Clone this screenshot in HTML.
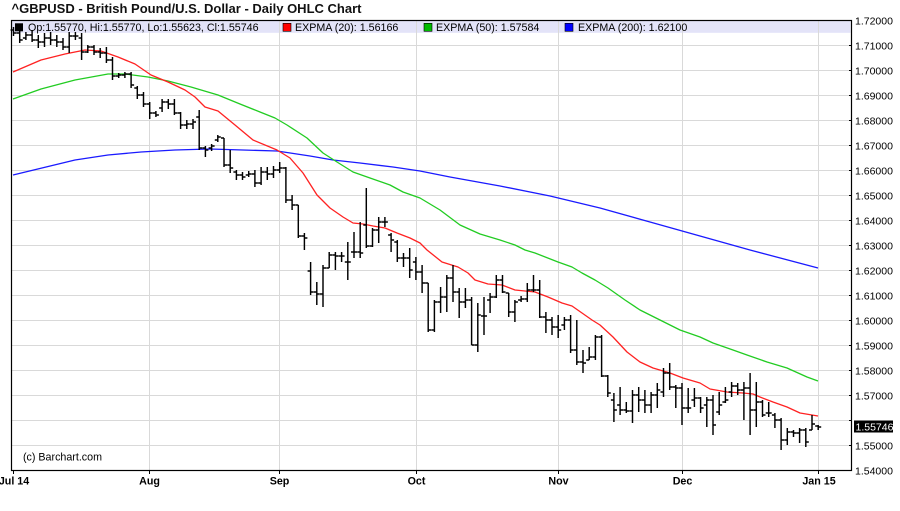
<!DOCTYPE html>
<html><head><meta charset="utf-8"><style>
html,body{margin:0;padding:0;background:#fff;}
svg{display:block;}
text{font-family:"Liberation Sans",Arial,sans-serif;}
</style></head><body>
<svg width="900" height="511" viewBox="0 0 900 511" xmlns="http://www.w3.org/2000/svg">
<rect x="0" y="0" width="900" height="511" fill="#fff"/>
<text x="11.5" y="12.8" font-size="13" font-weight="bold" fill="#111">^GBPUSD - British Pound/U.S. Dollar - Daily OHLC Chart</text>
<!-- legend band -->
<rect x="11.5" y="20.5" width="839" height="12.3" fill="#e3e3f8"/>
<!-- grid -->
<g stroke="#d9d9d9" stroke-width="1" fill="none">
<path d="M11.5 45.5H851.5M11.5 70.5H851.5M11.5 95.5H851.5M11.5 120.5H851.5M11.5 145.5H851.5M11.5 170.5H851.5M11.5 195.5H851.5M11.5 220.5H851.5M11.5 245.5H851.5M11.5 270.5H851.5M11.5 295.5H851.5M11.5 320.5H851.5M11.5 345.5H851.5M11.5 370.5H851.5M11.5 395.5H851.5M11.5 420.5H851.5M11.5 445.5H851.5"/>
<path d="M149.5 20.5V470.5M279.5 20.5V470.5M416.5 20.5V470.5M558.5 20.5V470.5M682.5 20.5V470.5M818.5 20.5V470.5"/>
</g>
<!-- frame -->
<rect x="11.5" y="20.5" width="840" height="450" fill="none" stroke="#000" stroke-width="1.2"/>
<g stroke="#000" stroke-width="1">
<path d="M849 45.5H852M849 70.5H852M849 95.5H852M849 120.5H852M849 145.5H852M849 170.5H852M849 195.5H852M849 220.5H852M849 245.5H852M849 270.5H852M849 295.5H852M849 320.5H852M849 345.5H852M849 370.5H852M849 395.5H852M849 420.5H852M849 445.5H852"/>
<path d="M13.5 470.5V474M149.5 470.5V474M279.5 470.5V474M416.5 470.5V474M558.5 470.5V474M682.5 470.5V474M818.5 470.5V474"/>
</g>
<!-- legend text -->
<rect x="15" y="23.3" width="8" height="8" fill="#000"/>
<text x="28" y="31" font-size="10.7" fill="#000">Op:1.55770, Hi:1.55770, Lo:1.55623, Cl:1.55746</text>
<rect x="283" y="23.3" width="8" height="8" fill="#f00" stroke="#000" stroke-width="0.6"/>
<text x="295" y="31" font-size="10.7" fill="#000">EXPMA (20): 1.56166</text>
<rect x="424" y="23.3" width="8" height="8" fill="#0b0" stroke="#000" stroke-width="0.6"/>
<text x="436" y="31" font-size="10.7" fill="#000">EXPMA (50): 1.57584</text>
<rect x="565" y="23.3" width="8" height="8" fill="#00f" stroke="#000" stroke-width="0.6"/>
<text x="578" y="31" font-size="10.7" fill="#000">EXPMA (200): 1.62100</text>
<!-- EMAs -->
<g fill="none" stroke-width="1.3" stroke-linejoin="round">
<polyline stroke="#1a1aff" points="13,175 75,160 108,155 141,152 175,150 210,149 277,151 310,156 333,160 360,163 393,167 420,171 450,177 500,186 550,196 600,208 650,222 700,236 750,250 818,268"/>
<polyline stroke="#22cc22" points="13,99 41,89 75,80 108,74 125,74 148,77 168,81 191,87 218,95 240,104 260,112 275,118 287,125 307,138 323,153 337,162 353,172 370,178 390,185 403,192 420,198 440,210 460,225 480,234 500,240 515,245 525,250 535,253 558,262 572,267 582,273 595,280 608,288 625,300 640,310 660,320 680,330 700,337 713,343 733,350 747,355 767,362 787,368 807,377 818,381"/>
<polyline stroke="#ff2222" points="13,72 41,60 65,54 85,50 101,51 118,57 135,64 151,75 168,82 185,90 195,97 205,107 218,111 235,125 253,140 277,150 290,158 303,173 317,195 330,208 343,217 353,223 363,224 373,226 385,228 397,233 410,238 420,243 427,250 442,262 458,267 468,273 475,280 488,284 502,285 515,290 525,291 535,292 548,297 562,303 572,306 582,313 592,320 600,325 613,337 627,352 640,362 653,368 670,373 683,378 700,383 710,389 727,392 743,393 753,394 760,397 773,402 787,407 800,413 818,416"/>
</g>
<!-- OHLC bars -->
<path fill="none" stroke="#000" stroke-width="1.45" d="
M13.5 27V36M10.5 30H13.5M13.5 33H16.5
M19.7 30V43M16.7 33H19.7M19.7 40H22.7
M25.9 32V40M22.9 38H25.9M25.9 35H28.9
M32.1 30V42M29.1 35H32.1M32.1 40H35.1
M38.3 35V48M35.3 40H38.3M38.3 42H41.3
M44.5 33V47M41.5 42H44.5M44.5 38H47.5
M50.6 32V45M47.6 38H50.6M50.6 40H53.6
M56.8 35V47M53.8 40H56.8M56.8 42H59.8
M63 38V50M60 42H63M63 47H66
M69.2 32V53M66.2 47H69.2M69.2 36H72.2
M75.4 32V40M72.4 36H75.4M75.4 36H78.4
M81.6 33V60M78.6 38H81.6M81.6 52H84.6
M87.8 45V53M84.8 52H87.8M87.8 47H90.8
M94 45V55M91 47H94M94 52H97
M100.2 48V58M97.2 52H100.2M100.2 53H103.2
M106.4 47V63M103.4 53H106.4M106.4 60H109.4
M112.5 57V80M109.5 60H112.5M112.5 76H115.5
M118.7 73V78M115.7 76H118.7M118.7 75H121.7
M124.9 72V78M121.9 75H124.9M124.9 74H127.9
M131.1 72V88M128.1 74H131.1M131.1 85H134.1
M137.3 86V99M134.3 88H137.3M137.3 95H140.3
M143.5 92V107M140.5 95H143.5M143.5 104H146.5
M149.7 102V119M146.7 104H149.7M149.7 113H152.7
M155.9 111V117M152.9 113H155.9M155.9 115H158.9
M162.1 99V112M159.1 108H162.1M162.1 102H165.1
M168.3 99V109M165.3 102H168.3M168.3 104H171.3
M174.4 99V115M171.4 104H174.4M174.4 113H177.4
M180.6 112V129M177.6 113H180.6M180.6 125H183.6
M186.8 120V129M183.8 125H186.8M186.8 124H189.8
M193 119V129M190 124H193M193 122H196
M199.2 110V150M196.2 117H199.2M199.2 148H202.2
M205.4 146V157M202.4 148H205.4M205.4 150H208.4
M211.6 144V151M208.6 148H211.6M211.6 146H214.6
M217.8 135V142M214.8 140H217.8M217.8 137H220.8
M224 138V167M221 138H224M224 165H227
M230.2 150V173M227.2 165H230.2M230.2 168H233.2
M236.4 170V180M233.4 172H236.4M236.4 175H239.4
M242.5 172V180M239.5 175H242.5M242.5 177H245.5
M248.7 171V177M245.7 175H248.7M248.7 174H251.7
M254.9 170V187M251.9 174H254.9M254.9 183H257.9
M261.1 167V185M258.1 183H261.1M261.1 172H264.1
M267.3 167V180M264.3 172H267.3M267.3 174H270.3
M273.5 166V178M270.5 174H273.5M273.5 170H276.5
M279.7 162V173M276.7 170H279.7M279.7 168H282.7
M285.9 167V203M282.9 168H285.9M285.9 200H288.9
M292.1 195V210M289.1 200H292.1M292.1 205H295.1
M298.3 205V238M295.3 205H298.3M298.3 236H301.3
M304.4 233V250M301.4 236H304.4M304.4 238H307.4
M310.6 262V295M307.6 271H310.6M310.6 292H313.6
M316.8 282V305M313.8 292H316.8M316.8 294H319.8
M323 265V307M320 294H323M323 268H326
M329.2 252V268M326.2 268H329.2M329.2 255H332.2
M335.4 252V270M332.4 255H335.4M335.4 256H338.4
M341.6 252V262M338.6 256H341.6M341.6 256H344.6
M347.8 242V280M344.8 262H347.8M347.8 262H350.8
M354 232V258M351 252H354M354 252H357
M360.2 222V258M357.2 252H360.2M360.2 253H363.2
M366.3 188V248M363.3 225H366.3M366.3 246H369.3
M372.5 228V247M369.5 246H372.5M372.5 230H375.5
M378.7 217V243M375.7 230H378.7M378.7 222H381.7
M384.9 217V227M381.9 222H384.9M384.9 222H387.9
M391.1 233V252M388.1 235H391.1M391.1 240H394.1
M397.3 240V262M394.3 242H397.3M397.3 258H400.3
M403.5 253V267M400.5 258H403.5M403.5 258H406.5
M409.7 248V278M406.7 258H409.7M409.7 270H412.7
M415.9 257V280M412.9 262H415.9M415.9 272H418.9
M422.1 265V293M419.1 272H422.1M422.1 283H425.1
M428.2 283V332M425.2 283H428.2M428.2 330H431.2
M434.4 300V332M431.4 330H434.4M434.4 302H437.4
M440.6 287V313M437.6 302H440.6M440.6 297H443.6
M446.8 275V312M443.8 297H446.8M446.8 278H449.8
M453 265V302M450 278H453M453 292H456
M459.2 288V318M456.2 292H459.2M459.2 302H462.2
M465.4 288V308M462.4 302H465.4M465.4 300H468.4
M471.6 297V345M468.6 300H471.6M471.6 345H474.6
M477.8 303V352M474.8 345H477.8M477.8 315H480.8
M484 297V335M481 316H484M484 316H487
M490.1 293V313M487.1 300H490.1M490.1 297H493.1
M496.3 275V298M493.3 297H496.3M496.3 280H499.3
M502.5 275V293M499.5 280H502.5M502.5 292H505.5
M508.7 293V317M505.7 293H508.7M508.7 312H511.7
M514.9 300V322M511.9 312H514.9M514.9 302H517.9
M521.1 296V302M518.1 300H521.1M521.1 299H524.1
M527.3 283V302M524.3 299H527.3M527.3 290H530.3
M533.5 275V292M530.5 290H533.5M533.5 290H536.5
M539.7 280V318M536.7 290H539.7M539.7 317H542.7
M545.9 312V333M542.9 317H545.9M545.9 320H548.9
M552 317V335M549 320H552M552 327H555
M558.2 315V338M555.2 327H558.2M558.2 330H561.2
M564.4 317V330M561.4 325H564.4M564.4 320H567.4
M570.6 315V353M567.6 320H570.6M570.6 350H573.6
M576.8 320V365M573.8 350H576.8M576.8 362H579.8
M583 350V373M580 362H583M583 363H586
M589.2 347V360M586.2 360H589.2M589.2 357H592.2
M595.4 335V360M592.4 357H595.4M595.4 337H598.4
M601.6 335V377M598.6 337H601.6M601.6 376H604.6
M607.8 375V397M604.8 376H607.8M607.8 393H610.8
M613.9 393V422M610.9 400H613.9M613.9 410H616.9
M620.1 387V415M617.1 405H620.1M620.1 410H623.1
M626.3 402V413M623.3 410H626.3M626.3 411H629.3
M632.5 390V423M629.5 411H632.5M632.5 395H635.5
M638.7 387V412M635.7 395H638.7M638.7 400H641.7
M644.9 390V413M641.9 400H644.9M644.9 405H647.9
M651.1 392V413M648.1 405H651.1M651.1 395H654.1
M657.3 383V408M654.3 395H657.3M657.3 390H660.3
M663.5 368V397M660.5 392H663.5M663.5 373H666.5
M669.7 363V390M666.7 373H669.7M669.7 387H672.7
M675.8 385V408M672.8 387H675.8M675.8 388H678.8
M682 383V425M679 388H682M682 408H685
M688.2 388V413M685.2 408H688.2M688.2 408H691.2
M694.4 388V407M691.4 400H694.4M694.4 398H697.4
M700.6 397V413M697.6 398H700.6M700.6 408H703.6
M706.8 397V427M703.8 405H706.8M706.8 400H709.8
M713 395V435M710 400H713M713 425H716
M719.2 392V415M716.2 412H719.2M719.2 405H722.2
M725.4 387V403M722.4 402H725.4M725.4 400H728.4
M731.6 382V397M728.6 392H731.6M731.6 386H734.6
M737.7 383V395M734.7 386H737.7M737.7 390H740.7
M743.9 382V420M740.9 390H743.9M743.9 388H746.9
M750.1 373V435M747.1 388H750.1M750.1 410H753.1
M756.3 382V427M753.3 410H756.3M756.3 402H759.3
M762.5 400V417M759.5 402H762.5M762.5 415H765.5
M768.7 402V417M765.7 413H768.7M768.7 413H771.7
M774.9 413V428M771.9 415H774.9M774.9 420H777.9
M781.1 418V450M778.1 420H781.1M781.1 440H784.1
M787.3 428V445M784.3 440H787.3M787.3 432H790.3
M793.5 430V437M790.5 432H793.5M793.5 433H796.5
M799.6 428V443M796.6 433H799.6M799.6 430H802.6
M805.8 428V447M802.8 430H805.8M805.8 442H808.8
M812 415V430M809 430H812M812 424H815
M818.2 425V430M815.2 426H818.2M818.2 427H821.2
"/>
<!-- copyright -->
<text x="23" y="460.5" font-size="10.7" fill="#000">(c) Barchart.com</text>
<!-- right axis labels -->
<g font-size="10.5" fill="#000">
<text x="855" y="24.5">1.72000</text>
<text x="855" y="49.5">1.71000</text>
<text x="855" y="74.5">1.70000</text>
<text x="855" y="99.5">1.69000</text>
<text x="855" y="124.5">1.68000</text>
<text x="855" y="149.5">1.67000</text>
<text x="855" y="174.5">1.66000</text>
<text x="855" y="199.5">1.65000</text>
<text x="855" y="224.5">1.64000</text>
<text x="855" y="249.5">1.63000</text>
<text x="855" y="274.5">1.62000</text>
<text x="855" y="299.5">1.61000</text>
<text x="855" y="324.5">1.60000</text>
<text x="855" y="349.5">1.59000</text>
<text x="855" y="374.5">1.58000</text>
<text x="855" y="399.5">1.57000</text>
<text x="855" y="449.5">1.55000</text>
<text x="855" y="474.5">1.54000</text>
</g>
<rect x="854" y="420.5" width="39" height="12" fill="#000"/>
<text x="855.5" y="430.5" font-size="10.5" fill="#fff">1.55746</text>
<!-- date labels -->
<g font-size="10.7" font-weight="bold" fill="#000" text-anchor="middle">
<text x="14" y="484.5">Jul 14</text>
<text x="149.5" y="484.5">Aug</text>
<text x="279.5" y="484.5">Sep</text>
<text x="416.5" y="484.5">Oct</text>
<text x="558.5" y="484.5">Nov</text>
<text x="682.5" y="484.5">Dec</text>
<text x="819" y="484.5">Jan 15</text>
</g>
</svg>
</body></html>
